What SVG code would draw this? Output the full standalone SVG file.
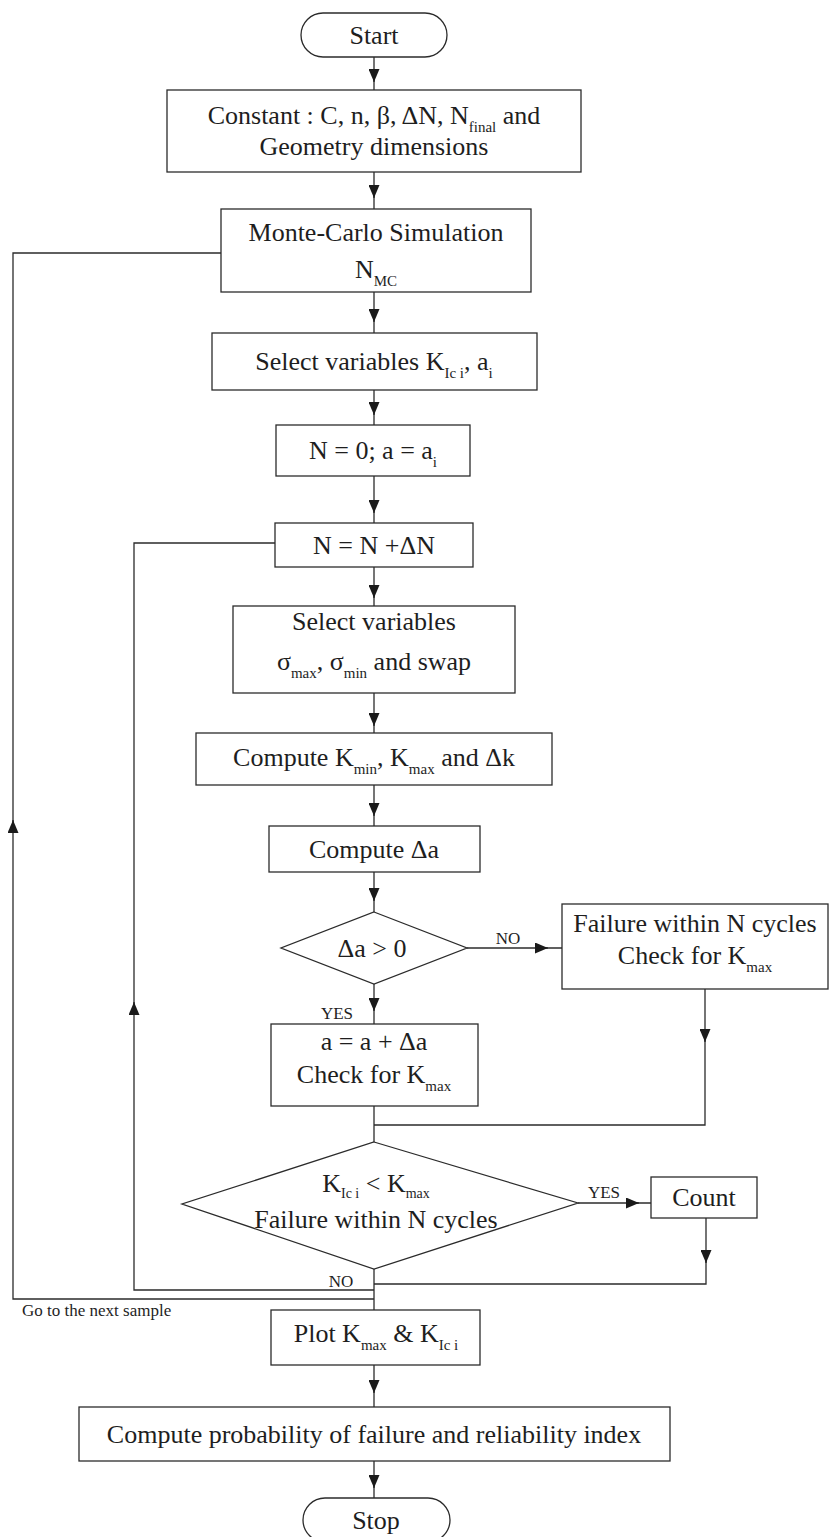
<svg xmlns="http://www.w3.org/2000/svg" width="829" height="1537" viewBox="0 0 829 1537">
<style>
.box{fill:#fff;stroke:#2b2b2b;stroke-width:1.3}
.ln{fill:none;stroke:#2b2b2b;stroke-width:1.3}
.ah{fill:none;stroke:#2b2b2b;stroke-width:1.3;marker-end:url(#ah)}
text{font-family:"Liberation Serif","Times New Roman",serif;fill:#1e1e1e}
.t{font-size:26px;text-anchor:middle}
.lb{font-size:17px}
.s{font-size:15px}
.s2{font-size:14px}
</style>
<defs>
<marker id="ah" viewBox="0 0 13 11" refX="13" refY="5.5" markerWidth="13" markerHeight="11" markerUnits="userSpaceOnUse" orient="auto"><path d="M0,0 L13,5.5 L0,11 z" fill="#1a1a1a"/></marker>
</defs>
<rect width="829" height="1537" fill="#fff"/>
<g id="connectors">
<path class="ln" d="M374,57 V90"/><path class="ah" d="M374,72 V82"/>
<path class="ln" d="M374,172 V209"/><path class="ah" d="M374,188 V198"/>
<path class="ln" d="M374,292 V333"/><path class="ah" d="M374,312 V322"/>
<path class="ln" d="M374,390 V425"/><path class="ah" d="M374,405 V415"/>
<path class="ln" d="M374,476 V523"/><path class="ah" d="M374,503 V513"/>
<path class="ln" d="M374,567 V606"/><path class="ah" d="M374,588 V598"/>
<path class="ln" d="M374,693 V733"/><path class="ah" d="M374,716 V726"/>
<path class="ln" d="M374,785 V826"/><path class="ah" d="M374,806 V816"/>
<path class="ln" d="M374,872 V912"/><path class="ah" d="M374,891 V901"/>
<path class="ln" d="M374,984 V1024"/><path class="ah" d="M374,1001 V1011"/>
<path class="ln" d="M467,948 H562"/><path class="ah" d="M538,948 H548"/>
<path class="ln" d="M705,989 V1125 H374"/><path class="ah" d="M705,1032 V1042"/>
<path class="ln" d="M374,1106 V1142"/>
<path class="ln" d="M578,1203 H651"/><path class="ah" d="M629,1203 H639"/>
<path class="ln" d="M706,1218 V1284 H374"/><path class="ah" d="M706,1253 V1263"/>
<path class="ln" d="M374,1269 V1310"/>
<path class="ln" d="M374,1290 H134 V543 H275"/><path class="ah" d="M134,1012 V1002"/>
<path class="ln" d="M374,1299 H13 V253 H221"/><path class="ah" d="M13,830 V820"/>
<path class="ln" d="M374,1365 V1407"/><path class="ah" d="M374,1383 V1393"/>
<path class="ln" d="M374,1461 V1498"/><path class="ah" d="M374,1478 V1488"/>
<text class="lb" x="508" y="944" text-anchor="middle">NO</text>
<text class="lb" x="337" y="1019" text-anchor="middle">YES</text>
<text class="lb" x="604" y="1198" text-anchor="middle">YES</text>
<text class="lb" x="341" y="1287" text-anchor="middle">NO</text>
<text class="lb" x="22" y="1316">Go to the next sample</text>
</g>
<g id="start"><rect class="box" x="301" y="13" width="146" height="44" rx="22"/><text class="t" x="374" y="44">Start</text></g>
<g id="constants"><rect class="box" x="167" y="90" width="414" height="82"/><text class="t" x="374" y="124">Constant : C, n, β, ΔN, N<tspan class="s" dy="8">final</tspan><tspan dy="-8"> and</tspan></text><text class="t" x="374" y="155">Geometry dimensions</text></g>
<g id="montecarlo"><rect class="box" x="221" y="209" width="310" height="83"/><text class="t" x="376" y="241">Monte-Carlo Simulation</text><text class="t" x="376" y="278">N<tspan class="s" dy="8">MC</tspan></text></g>
<g id="select-k"><rect class="box" x="212" y="333" width="325" height="57"/><text class="t" x="374" y="370">Select variables K<tspan class="s" dy="8">Ic i</tspan><tspan dy="-8">, a</tspan><tspan class="s" dy="8">i</tspan></text></g>
<g id="init"><rect class="box" x="276" y="425" width="194" height="51"/><text class="t" x="373" y="459">N = 0; a = a<tspan class="s" dy="8">i</tspan></text></g>
<g id="increment"><rect class="box" x="275" y="523" width="198" height="44"/><text class="t" x="374" y="554">N = N +ΔN</text></g>
<g id="select-sigma"><rect class="box" x="233" y="606" width="282" height="87"/><text class="t" x="374" y="630">Select variables</text><text class="t" x="374" y="670">σ<tspan class="s" dy="8">max</tspan><tspan dy="-8">, σ</tspan><tspan class="s" dy="8">min</tspan><tspan dy="-8"> and swap</tspan></text></g>
<g id="compute-k"><rect class="box" x="196" y="733" width="356" height="52"/><text class="t" x="374" y="766">Compute K<tspan class="s" dy="8">min</tspan><tspan dy="-8">, K</tspan><tspan class="s" dy="8">max</tspan><tspan dy="-8"> and Δk</tspan></text></g>
<g id="compute-da"><rect class="box" x="269" y="826" width="211" height="46"/><text class="t" x="374" y="858">Compute Δa</text></g>
<g id="decision-da"><polygon class="box" points="374,912 467,948 374,984 281,948"/><text class="t" x="372" y="957">Δa &gt; 0</text></g>
<g id="failure-1"><rect class="box" x="562" y="904" width="266" height="85"/><text class="t" x="695" y="932">Failure within N cycles</text><text class="t" x="695" y="964">Check for K<tspan class="s" dy="8">max</tspan></text></g>
<g id="update-a"><rect class="box" x="271" y="1024" width="207" height="82"/><text class="t" x="374" y="1050">a = a + Δa</text><text class="t" x="374" y="1083">Check for K<tspan class="s" dy="8">max</tspan></text></g>
<g id="decision-k"><polygon class="box" points="374,1142 578,1203 374,1269 182,1204"/><text class="t" x="376" y="1192">K<tspan class="s2" dy="6">Ic i</tspan><tspan dy="-6"> &lt; K</tspan><tspan class="s2" dy="6">max</tspan></text><text class="t" x="376" y="1228">Failure within N cycles</text></g>
<g id="count"><rect class="box" x="651" y="1177" width="106" height="41"/><text class="t" x="704" y="1206">Count</text></g>
<g id="plot"><rect class="box" x="271" y="1310" width="209" height="55"/><text class="t" x="376" y="1342">Plot K<tspan class="s" dy="8">max</tspan><tspan dy="-8"> &amp; K</tspan><tspan class="s" dy="8">Ic i</tspan></text></g>
<g id="probability"><rect class="box" x="79" y="1407" width="591" height="54"/><text class="t" x="374" y="1443">Compute probability of failure and reliability index</text></g>
<g id="stop"><rect class="box" x="303" y="1498" width="147" height="44" rx="22"/><text class="t" x="376" y="1529">Stop</text></g>
</svg>
